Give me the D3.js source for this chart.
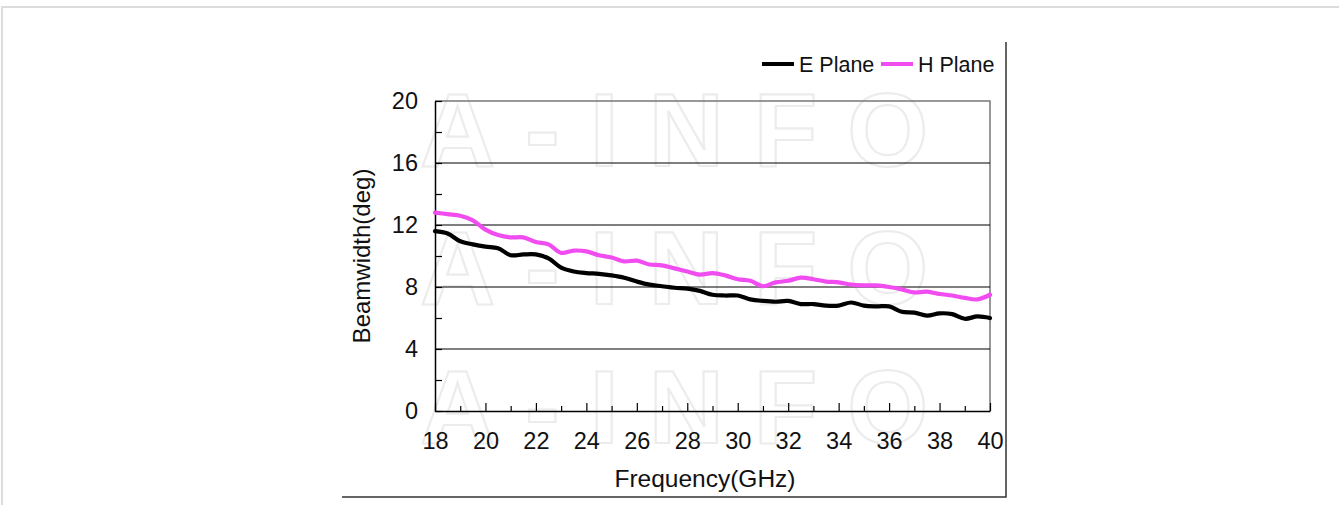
<!DOCTYPE html>
<html>
<head>
<meta charset="utf-8">
<script src="https://cdn.jsdelivr.net/npm/d3@7/dist/d3.min.js"></script>
<style>
  body { margin: 0; background: #fff; }
  svg { display: block; font-family: "Liberation Sans", Arial, sans-serif; }
</style>
</head>
<body>
<div id="chart"></div>
<script>
// frequency samples (GHz)
const freq = [18, 18.5, 19, 19.5, 20, 20.5, 21, 21.5, 22, 22.5, 23, 23.5, 24, 24.5, 25, 25.5,
  26, 26.5, 27, 27.5, 28, 28.5, 29, 29.5, 30, 30.5, 31, 31.5, 32, 32.5, 33, 33.5, 34, 34.5,
  35, 35.5, 36, 36.5, 37, 37.5, 38, 38.5, 39, 39.5, 40];

// beamwidth (deg)
const ePlane = [11.6, 11.45, 10.95, 10.75, 10.6, 10.5, 10.05, 10.1, 10.1, 9.85, 9.25, 9.0, 8.9, 8.85,
  8.75, 8.6, 8.35, 8.15, 8.05, 7.95, 7.9, 7.75, 7.5, 7.45, 7.45, 7.2, 7.1, 7.05, 7.1, 6.9, 6.9,
  6.8, 6.8, 7.0, 6.8, 6.75, 6.75, 6.4, 6.35, 6.15, 6.3, 6.25, 5.95, 6.1, 6.0];
const hPlane = [12.8, 12.7, 12.6, 12.3, 11.7, 11.35, 11.2, 11.2, 10.9, 10.75, 10.2, 10.35, 10.3, 10.05,
  9.9, 9.65, 9.7, 9.45, 9.4, 9.2, 9.0, 8.8, 8.9, 8.75, 8.5, 8.4, 8.05, 8.3, 8.4, 8.6, 8.5,
  8.35, 8.3, 8.15, 8.1, 8.1, 8.0, 7.85, 7.65, 7.7, 7.55, 7.45, 7.3, 7.2, 7.5];

const xTicks = [18, 19, 20, 21, 22, 23, 24, 25, 26, 27, 28, 29, 30, 31, 32, 33, 34, 35, 36, 37, 38, 39, 40];
const yTicks = [0, 2, 4, 6, 8, 10, 12, 14, 16, 18, 20];
const gridValues = [4, 8, 12, 16];
const seriesNames = ["E Plane", "H Plane"];
const seriesColors = ["#000000", "#f04cf0"];

const W = 1339, H = 505;
const margin = { top: 101, right: 349, bottom: 94, left: 435 };

const svg = d3.select("#chart").append("svg")
  .attr("width", W)
  .attr("height", H);

// page border
svg.append("path")
  .attr("d", `M2,${H}V7H${W}`)
  .attr("fill", "none")
  .attr("stroke", "#dcdcdc")
  .attr("stroke-width", 2);

// image frame (right + bottom edge)
svg.append("path")
  .attr("d", "M1006,42V497H342")
  .attr("fill", "none")
  .attr("stroke", "#333")
  .attr("stroke-width", 1.5);

const x = d3.scaleLinear().domain([18, 40]).range([margin.left, W - margin.right]);
const y = d3.scaleLinear().domain([0, 20]).range([H - margin.bottom, margin.top]);

// watermark
[166, 304, 443].forEach(function(base) {
  svg.append("text")
    .attr("x", 420)
    .attr("y", base)
    .attr("font-size", 104)
    .attr("font-weight", "bold")
    .attr("letter-spacing", 30)
    .attr("fill", "#fff")
    .attr("stroke", "#ececec")
    .attr("stroke-width", 2.2)
    .text("A-INFO");
});

// frame: top + right
svg.append("path")
  .attr("d", `M${x(18)},${y(20)}H${x(40)}V${y(0)}`)
  .attr("fill", "none")
  .attr("stroke", "#777")
  .attr("stroke-width", 1.5);

// gridlines
svg.append("g")
  .selectAll("line")
  .data(gridValues)
  .enter()
  .append("line")
  .attr("x1", x(18))
  .attr("x2", x(40))
  .attr("y1", d => y(d))
  .attr("y2", d => y(d))
  .attr("stroke", "#000")
  .attr("stroke-width", 1.2);

// y axis
const yAxis = svg.append("g")
  .attr("transform", `translate(${x(18)},0)`)
  .call(d3.axisLeft(y).tickValues(yTicks).tickSizeInner(-7).tickSizeOuter(0).tickPadding(17)
    .tickFormat(d => d % 4 === 0 ? d : ""));
yAxis.select(".domain").attr("stroke", "#000").attr("stroke-width", 1.5);
yAxis.selectAll(".tick line").attr("stroke", "#000").attr("stroke-width", 1.2);
yAxis.selectAll(".tick text").attr("font-size", 23.5).attr("fill", "#111")
  .attr("font-family", "Liberation Sans, Arial, sans-serif");

// x axis
const xAxis = svg.append("g")
  .attr("transform", `translate(0,${y(0)})`)
  .call(d3.axisBottom(x).tickValues(xTicks).tickSizeInner(-8).tickSizeOuter(0).tickPadding(21)
    .tickFormat(d => d % 2 === 0 ? d : ""));
xAxis.select(".domain").attr("stroke", "#000").attr("stroke-width", 1.5);
xAxis.selectAll(".tick line")
  .attr("stroke", "#000")
  .attr("stroke-width", 1.2)
  .attr("y2", d => d % 2 === 0 ? -8 : -5);
xAxis.selectAll(".tick text").attr("font-size", 23.5).attr("fill", "#111")
  .attr("font-family", "Liberation Sans, Arial, sans-serif");

// axis titles
svg.append("text")
  .attr("x", 705)
  .attr("y", 487)
  .attr("text-anchor", "middle")
  .attr("font-size", 24.5)
  .attr("fill", "#111")
  .text("Frequency(GHz)");

svg.append("text")
  .attr("transform", `translate(370,${(y(0) + y(20)) / 2}) rotate(-90)`)
  .attr("text-anchor", "middle")
  .attr("font-size", 24)
  .attr("fill", "#111")
  .text("Beamwidth(deg)");

// curves
const line = d3.line()
  .x((d, i) => x(freq[i]))
  .y(d => y(d))
  .curve(d3.curveCatmullRom.alpha(0.5));

[ePlane, hPlane].forEach(function(series, i) {
  svg.append("path")
    .datum(series)
    .attr("d", line)
    .attr("fill", "none")
    .attr("stroke", seriesColors[i])
    .attr("stroke-width", 4.2)
    .attr("stroke-linejoin", "round")
    .attr("stroke-linecap", "round");
});

// legend
const legendX = [762, 881];
const legend = svg.append("g")
  .selectAll("g")
  .data(seriesNames)
  .enter()
  .append("g")
  .attr("transform", (d, i) => `translate(${legendX[i]},64)`);
legend.append("line")
  .attr("x1", 0).attr("x2", 32)
  .attr("stroke", (d, i) => seriesColors[i])
  .attr("stroke-width", 4);
legend.append("text")
  .attr("x", 37)
  .attr("dy", "0.35em")
  .attr("font-size", 21.5)
  .attr("fill", "#111")
  .text(d => d);
</script>
</body>
</html>
